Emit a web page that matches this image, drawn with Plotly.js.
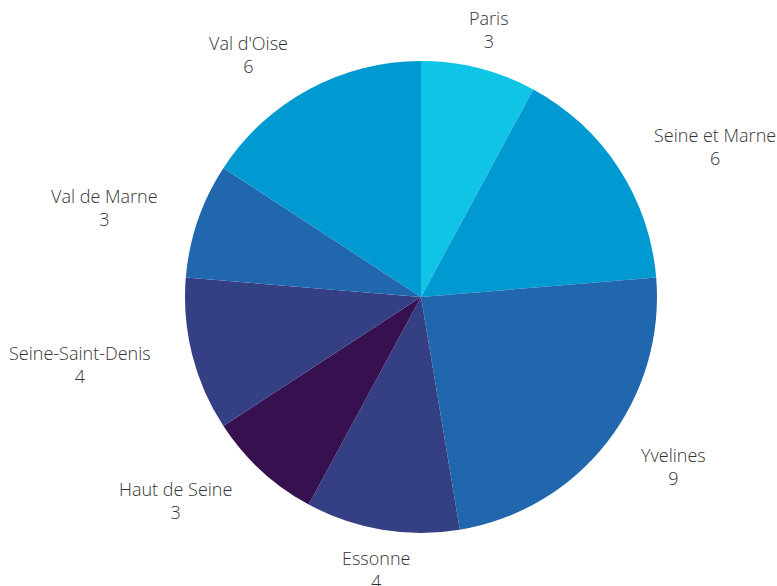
<!DOCTYPE html>
<html>
<head>
<meta charset="utf-8">
<script src="https://cdn.plot.ly/plotly-3.0.1.min.js"></script>
<style>html,body{margin:0;padding:0;background:#fff;}#chart{width:777px;height:586px;}</style>
</head>
<body>
<div id="chart"></div>
<script>
const departements = ["Paris", "Seine et Marne", "Yvelines", "Essonne", "Haut de Seine", "Seine-Saint-Denis", "Val de Marne", "Val d'Oise"];
const valeurs = [3, 6, 9, 4, 3, 4, 3, 6];
const couleurs = ["#10c4e6", "#0099d1", "#2167ae", "#343f84", "#36104f", "#343f84", "#2167ae", "#0099d1"];

const W = 777, H = 586, cx = 421, cy = 297, R = 236, DIST = 40;

// label positions derived from the data (cumulative angles, clockwise from top)
const total = valeurs.reduce((a, b) => a + b, 0);
let cum = 0;
const annotations = departements.map((lab, i) => {
  const mid = (cum + valeurs[i] / 2) / total * 2 * Math.PI;
  cum += valeurs[i];
  const dx = Math.sin(mid), dy = -Math.cos(mid);
  const px = cx + dx * (R + DIST), py = cy + dy * (R + DIST);
  return {
    x: px / W, y: 1 - py / H, xref: "paper", yref: "paper",
    text: lab + "<br>" + valeurs[i],
    showarrow: false,
    xanchor: dx > 0.35 ? "left" : (dx < -0.35 ? "right" : "center"),
    yanchor: "middle",
    align: "center",
    font: {family: "Open Sans", size: 18, color: "#333", weight: 300}
  };
});

Plotly.newPlot("chart", [{
  type: "pie",
  labels: departements,
  values: valeurs,
  sort: false,
  direction: "clockwise",
  rotation: 0,
  automargin: false,
  showlegend: false,
  hoverinfo: "label+value",
  marker: {colors: couleurs, line: {width: 0}},
  textinfo: "none",
  domain: {x: [(cx - R) / W, (cx + R) / W], y: [(H - cy - R) / H, (H - cy + R) / H]}
}], {
  width: W, height: H,
  margin: {l: 0, r: 0, t: 0, b: 0},
  paper_bgcolor: "#fff",
  showlegend: false,
  annotations: annotations,
  font: {family: "Open Sans", color: "#333"}
}, {displayModeBar: false, staticPlot: true});
</script>
</body>
</html>
